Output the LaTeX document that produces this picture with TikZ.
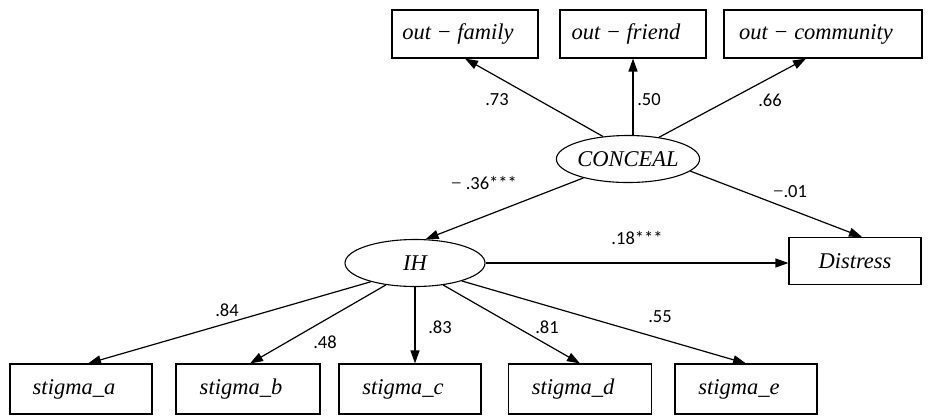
\documentclass[tikz,border=0pt]{standalone}
\usepackage{fontspec}
\usepackage{tikz}
\usetikzlibrary{shapes.geometric,arrows.meta}
\newfontfamily\varfont{Liberation Serif}
\newfontfamily\numfont{Carlito}

\tikzset{
  obsbox/.style={draw,line width=1.1pt,rectangle,minimum height=48pt,inner sep=0pt,
    font=\varfont\itshape\fontsize{22.5}{25}\selectfont},
  leftish/.style={execute at end node=\hspace*{14pt}},
  latent/.style={draw,line width=1.1pt,ellipse,minimum width=140pt,minimum height=47pt,inner sep=0pt,
    font=\varfont\itshape\fontsize{22.5}{25}\selectfont},
  arr/.style={-{Triangle[length=13pt,width=9pt]},line width=1.2pt},
  coef/.style={inner sep=0pt,font=\numfont\fontsize{18.5}{21}\selectfont}
}

\begin{document}
\begin{tikzpicture}[x=1pt,y=-1pt]
            \useasboundingbox (0,0) rectangle (931,416);
            % Draw concealment indicators
            \node[obsbox,leftish,minimum width=146pt] (outfam) at (465,34) {out − family};
            \node[obsbox,leftish,minimum width=146pt] (outfri) at (633,34) {out − friend};
            \node[obsbox,leftish,minimum width=198pt] (outcom) at (823,34) {out − community};
            % Draw latent variables
            \node[latent] (conceal) at (628,159) {CONCEAL};
            \node[latent] (ih) at (415,263) {IH};
            \node[obsbox,minimum width=132pt,minimum height=47pt] (distress) at (855,261) {Distress};
            % Draw stigma indicators
            \node[obsbox,leftish,minimum width=142pt,minimum height=50pt] (stiga) at (81,389) {stigma\_a};
            \node[obsbox,leftish,minimum width=144pt,minimum height=50pt] (stigb) at (248,389) {stigma\_b};
            \node[obsbox,leftish,minimum width=142pt,minimum height=50pt] (stigc) at (410,389) {stigma\_c};
            \node[obsbox,leftish,minimum width=143pt,minimum height=50pt] (stigd) at (580,389) {stigma\_d};
            \node[obsbox,leftish,minimum width=142pt,minimum height=50pt] (stige) at (746,389) {stigma\_e};
            % Draw loadings of CONCEAL
            \draw[arr] (conceal.138) -- (outfam.south);
            \draw[arr] (conceal.north -| outfri.south) -- (outfri.south);
            \draw[arr] (conceal.35) -- ([xshift=-17pt]outcom.south);
            % Draw structural paths
            \draw[arr] (conceal.203) -- (ih.66);
            \draw[arr] (conceal.349) -- ([xshift=7pt]distress.north);
            \draw[arr] (ih.east) -- (ih.east -| distress.west);
            % Draw loadings of IH
            \draw[arr] (ih.203) -- ([xshift=7pt]stiga.north);
            \draw[arr] (ih.217) -- ([xshift=2pt]stigb.north);
            \draw[arr] (ih.south) -- (ih.south |- stigc.north);
            \draw[arr] (ih.322) -- (stigd.north);
            \draw[arr] (ih.339) -- (stige.north);
            % Label values
            \node[coef] (l73) at (497,100) {.73};
            \node[coef] (l50) at (649,100) {.50};
            \node[coef] (l66) at (770,100) {.66};
            \node[coef] (l36) at (484,183) {{\varfont −} .36***};
            \node[coef] (l01) at (790,192) {{\varfont −}.01};
            \node[coef] (l18) at (637,238) {.18***};
            \node[coef] (l84) at (227,310) {.84};
            \node[coef] (l48) at (325,342) {.48};
            \node[coef] (l83) at (440,327) {.83};
            \node[coef] (l81) at (547,327) {.81};
            \node[coef] (l55) at (660,317) {.55};
\end{tikzpicture}
\end{document}
